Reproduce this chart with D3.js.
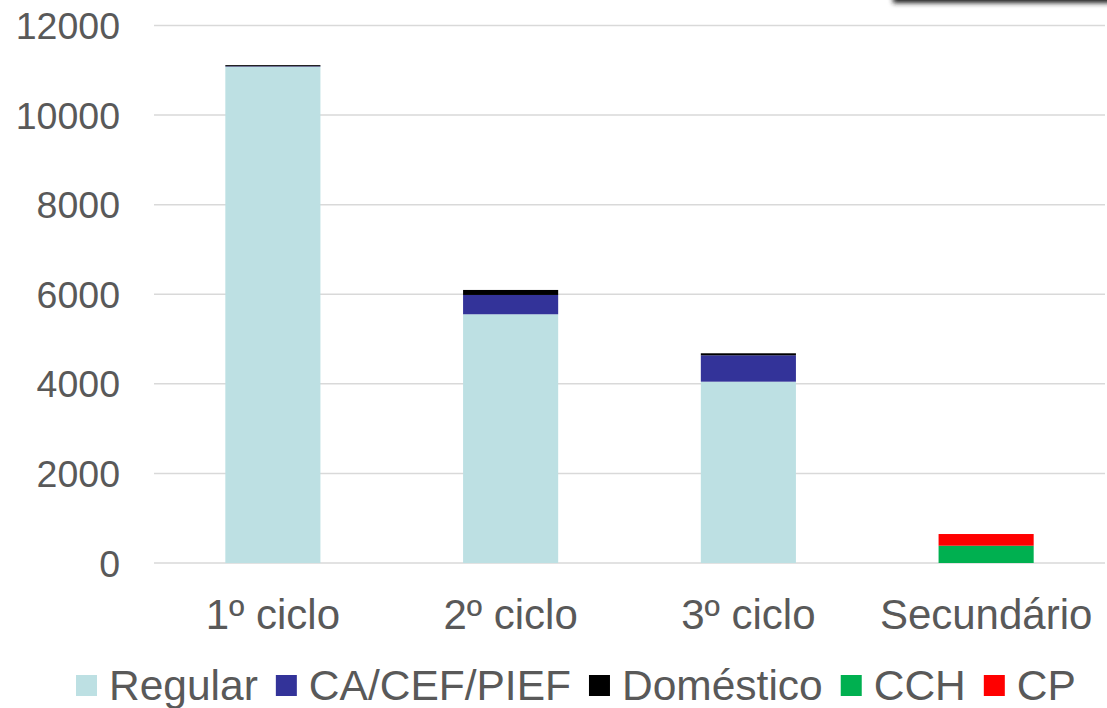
<!DOCTYPE html>
<html>
<head>
<meta charset="utf-8">
<script src="https://cdn.jsdelivr.net/npm/d3@7"></script>
<style>
  body { margin: 0; background: #fff; }
  text { font-family: "Liberation Sans", Arial, sans-serif; fill: #595959; }
</style>
</head>
<body>
<div id="chart"></div>
<script>
// categories and series
var categories = ['1º ciclo', '2º ciclo', '3º ciclo', 'Secundário']
var seriesNames = ['Regular', 'CA/CEF/PIEF', 'Doméstico', 'CCH', 'CP']
var seriesColors = ['#bde0e3', '#333399', '#000000', '#00b050', '#ff0000']
var regular = [11080, 5553, 4048, 0]
var caCefPief = [10, 431, 589, 0]
var domestico = [25, 112, 45, 0]
var cch = [0, 0, 0, 386]
var cp = [0, 0, 0, 261]
var yTicks = [0, 2000, 4000, 6000, 8000, 10000, 12000]

var W = 1107, H = 708
var margin = { top: 25.5, right: 2, bottom: 145, left: 154 }
var width = W - margin.left - margin.right,
    height = H - margin.top - margin.bottom

var svg = d3.select('#chart').append('svg')
    .attr('width', W)
    .attr('height', H)

// shadow of a box cut off at the top right
var defs = svg.append('defs')
defs.append('filter').attr('id', 'blur')
    .attr('x', '-20%').attr('y', '-200%').attr('width', '140%').attr('height', '500%')
    .append('feGaussianBlur').attr('stdDeviation', 2.5)
svg.append('rect')
    .attr('x', 893).attr('y', -30).attr('width', 240).attr('height', 33)
    .attr('fill', '#222').attr('filter', 'url(#blur)')

var g = svg.append('g')
    .attr('transform', 'translate(' + margin.left + ',' + margin.top + ')')

var x = d3.scaleBand()
    .domain(categories)
    .range([0, width])
    .paddingInner(0.6)
    .paddingOuter(0.3)

var y = d3.scaleLinear()
    .domain([0, 12000])
    .range([height, 0])

// grid lines
g.append('g')
    .selectAll('line')
    .data(yTicks)
    .enter()
    .append('line')
    .attr('x1', 0).attr('x2', width)
    .attr('y1', d => y(d)).attr('y2', d => y(d))
    .attr('stroke', '#d9d9d9')
    .attr('stroke-width', 1.5)

// y axis labels
g.append('g')
    .selectAll('text')
    .data(yTicks)
    .enter()
    .append('text')
    .attr('x', -34)
    .attr('y', d => y(d))
    .attr('dy', '0.36em')
    .attr('text-anchor', 'end')
    .style('font-size', '37.5px')
    .text(d => d)

// stacked bars
var rows = categories.map(function (c, i) {
    return { cat: c, Regular: regular[i], 'CA/CEF/PIEF': caCefPief[i], 'Doméstico': domestico[i], CCH: cch[i], CP: cp[i] }
})
var stack = d3.stack().keys(seriesNames)(rows)

g.append('g')
    .selectAll('g')
    .data(stack)
    .enter()
    .append('g')
    .attr('fill', (d, i) => seriesColors[i])
    .selectAll('rect')
    .data(d => d)
    .enter()
    .append('rect')
    .attr('x', d => x(d.data.cat))
    .attr('width', x.bandwidth())
    .attr('y', d => y(d[1]))
    .attr('height', d => y(d[0]) - y(d[1]))

// x axis labels
g.append('g')
    .selectAll('text')
    .data(categories)
    .enter()
    .append('text')
    .attr('x', d => x(d) + x.bandwidth() / 2)
    .attr('y', height + 66)
    .attr('text-anchor', 'middle')
    .style('font-size', '42px')
    .text(d => d)

// legend
var legend = svg.append('g').attr('transform', 'translate(0,700)')
var lx = 76
seriesNames.forEach(function (name, i) {
    legend.append('rect')
        .attr('x', lx).attr('y', -25)
        .attr('width', 21).attr('height', 21)
        .attr('fill', seriesColors[i])
    var t = legend.append('text')
        .attr('x', lx + 33)
        .attr('y', 0)
        .style('font-size', '42.5px')
        .text(name)
    lx += 33 + t.node().getComputedTextLength() + 18
})
</script>
</body>
</html>
